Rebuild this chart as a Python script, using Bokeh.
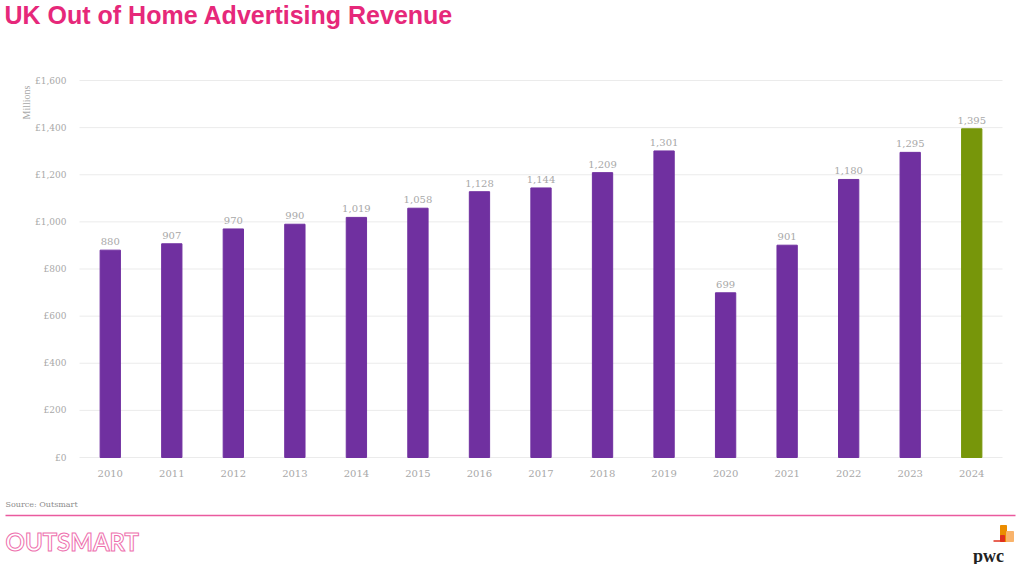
from bokeh.plotting import figure
from bokeh.models import ColumnDataSource, Range1d, FixedTicker
from bokeh.embed import file_html
from bokeh.resources import INLINE
from bokeh.core.properties import value

# ---- data ----
years = ["2010", "2011", "2012", "2013", "2014", "2015", "2016", "2017",
         "2018", "2019", "2020", "2021", "2022", "2023", "2024"]
revenue = [880, 907, 970, 990, 1019, 1058, 1128, 1144, 1209, 1301, 699, 901, 1180, 1295, 1395]
bar_colors = ["#7030A0"] * 14 + ["#77960A"]
value_labels = [f"{v:,}" for v in revenue]
y_ticks = [0, 200, 400, 600, 800, 1000, 1200, 1400, 1600]
y_tick_labels = ["£0", "£200", "£400", "£600", "£800", "£1,000", "£1,200", "£1,400", "£1,600"]

TITLE = "UK Out of Home Advertising Revenue"
SOURCE = "Source: Outsmart"
PINK = "#E6287A"
GREY = "#A8A8A8"
SERIF = "DejaVu Serif"

# ---- page geometry (pixels) ----
W, H = 1024, 564
PLOT_L, PLOT_R, PLOT_T, PLOT_B = 79, 1002, 80, 457
YMAX = 1600
XPX = (PLOT_R - PLOT_L) / len(years)          # px per category
YPX = (PLOT_B - PLOT_T) / YMAX                 # px per £m
X0 = -0.5 - PLOT_L / XPX                       # data x at page left


def dx(px):
    return X0 + px / XPX


def dy(py):
    return (PLOT_B - py) / YPX


xpos = list(range(len(years)))
src = ColumnDataSource(dict(x=xpos, revenue=revenue, color=bar_colors, label=value_labels))

p = figure(width=W, height=H, x_range=Range1d(dx(0), dx(W)), y_range=Range1d(dy(H), dy(0)),
           output_backend="svg", toolbar_location=None, min_border=0,
           outline_line_color=None)
p.grid.visible = False

# gridlines (only across the plot area)
p.segment(x0=-0.5, x1=len(years) - 0.5, y0=y_ticks, y1=y_ticks, line_color="#EBEBEB", line_width=1)

p.vbar(x="x", top="revenue", width=0.33, color="color", source=src)
p.text(x="x", y="revenue", text="label", source=src, y_offset=-5,
       text_align="center", text_baseline="bottom", text_font=value(SERIF),
       text_font_size="10px", text_color=GREY)

# axes drawn inside the full-page frame
p.xaxis.fixed_location = 0
p.yaxis.fixed_location = -0.5
p.xaxis.ticker = FixedTicker(ticks=xpos)
p.xaxis.major_label_overrides = {i: y for i, y in zip(xpos, years)}
p.yaxis.ticker = FixedTicker(ticks=y_ticks)
p.yaxis.major_label_overrides = {t: l for t, l in zip(y_ticks, y_tick_labels)}
for ax in (p.xaxis[0], p.yaxis[0]):
    ax.axis_line_color = None
    ax.major_tick_line_color = None
    ax.minor_tick_line_color = None
    ax.major_label_text_font = SERIF
    ax.major_label_text_color = GREY
p.xaxis.major_label_text_font_size = "10px"
p.yaxis.major_label_text_font_size = "9px"
p.yaxis.major_label_standoff = 7
p.xaxis.major_label_standoff = 6

# ---- header / axis title ----
p.text(x=[dx(4)], y=[dy(14)], text=[TITLE], text_font=value("Liberation Sans"),
       text_font_style="bold", text_font_size="25px", text_color=PINK,
       text_baseline="middle", text_align="left")
p.text(x=[dx(26)], y=[dy(102)], text=["Millions"], angle=1.5708,
       text_font=value("Liberation Serif"), text_font_size="10px", text_color=GREY,
       text_align="center", text_baseline="middle")

# ---- footer ----
p.text(x=[dx(5)], y=[dy(504)], text=[SOURCE], text_font=value(SERIF), text_font_size="8px",
       text_color="#8C8C8C", text_baseline="middle", text_align="left")
p.segment(x0=[dx(5)], x1=[dx(1015)], y0=[dy(515)], y1=[dy(515)], line_color="#EA5A9E",
          line_width=1.5)
p.text(x=[dx(5)], y=[dy(541)], text=["OUTSMART"], text_font=value("Lato"),
       text_font_style="bold", text_font_size="24px", text_color="#FFFFFF",
       text_outline_color="#EE6FAE", text_baseline="middle", text_align="left")
p.quad(left=[dx(1000), dx(1000), dx(1006)], right=[dx(1006), dx(1004), dx(1013)],
       top=[dy(525), dy(535), dy(531)], bottom=[dy(541)] * 3,
       color=["#EB8C00", "#E0301E", "#F9B36B"])
p.segment(x0=[dx(993)], x1=[dx(1000)], y0=[dy(540.5)], y1=[dy(540.5)], line_color="#E0301E",
          line_width=1.5)
p.text(x=[dx(988)], y=[dy(555)], text=["pwc"], text_font=value("Liberation Serif"),
       text_font_style="bold", text_font_size="18px", text_color="#222222",
       text_align="center", text_baseline="middle")

open("out.html", "w").write(file_html(p, INLINE))
